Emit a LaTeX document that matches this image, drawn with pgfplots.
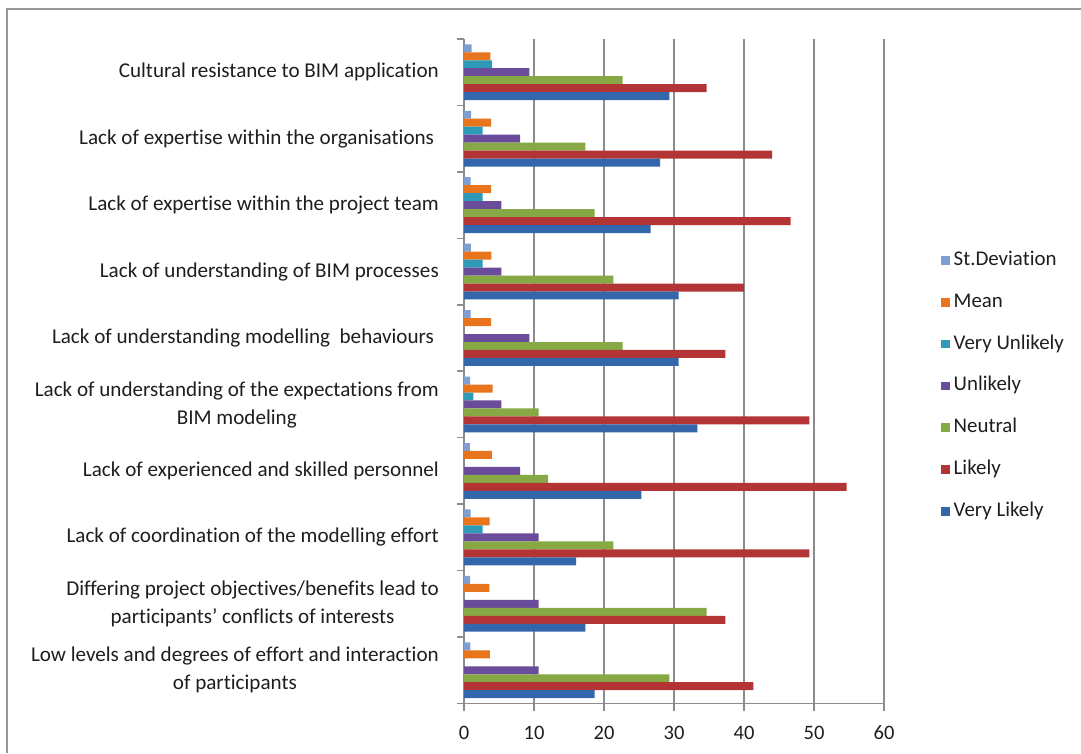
\documentclass[border=0pt]{standalone}
\usepackage{fontspec}
\setmainfont{Carlito}[Ligatures=NoCommon]
\usepackage{pgfplots}
\usepackage{pgfplotstable}
\pgfplotsset{compat=1.18}

\definecolor{cSD}{HTML}{7F9FD3}
\definecolor{cMean}{HTML}{E8741E}
\definecolor{cVU}{HTML}{2E9AB8}
\definecolor{cU}{HTML}{6B4C9B}
\definecolor{cN}{HTML}{86A845}
\definecolor{cL}{HTML}{B33434}
\definecolor{cVL}{HTML}{3366AA}
\definecolor{gridgray}{HTML}{8C8C8C}
\definecolor{txt}{HTML}{1E1E1E}

\pgfplotsset{
  sqlegend/.style={legend image code/.code={\fill[##1] (0pt,-4.25pt) rectangle (8.5pt,4.25pt);}},
}

% percentage of respondents per answer, mean and standard deviation (1-5 scale)
% rows: 0 = bottom category ... 9 = top category
\pgfplotstableread{
y  VL     L      N      U      VU    M     SD
0  18.67  41.33  29.33  10.67  0     3.68  0.90
1  17.33  37.33  34.67  10.67  0     3.61  0.89
2  16.00  49.33  21.33  10.67  2.67  3.65  0.96
3  25.33  54.67  12.00  8.00   0     3.97  0.83
4  33.33  49.33  10.67  5.33   1.33  4.08  0.88
5  30.67  37.33  22.67  9.33   0     3.89  0.95
6  30.67  40.00  21.33  5.33   2.67  3.91  0.98
7  26.67  46.67  18.67  5.33   2.67  3.89  0.95
8  28.00  44.00  17.33  8.00   2.67  3.87  1.00
9  29.33  34.67  22.67  9.33   4.00  3.76  1.09
}\barriers

\begin{document}
\begin{tikzpicture}
\useasboundingbox (0pt,0pt) rectangle (1081pt,753pt);
\draw[gridgray!90, line width=1.6pt] (7pt,0pt) -- (7pt,744pt) -- (1081pt,744pt);
\begin{axis}[
  at={(464pt,49.5pt)}, anchor=south west,
  scale only axis, width=420pt, height=664.5pt,
  xmin=0, xmax=60, ymin=-0.5, ymax=9.5,
  axis x line*=bottom, axis y line*=left,
  axis line style={gridgray, line width=1.6pt},
  xmajorgrids, grid style={gridgray, line width=1.6pt},
  tick align=outside, major tick length=7pt,
  tick style={gridgray, line width=1.6pt},
  xtick={0,10,...,60},
  ytick={-0.5,0.5,...,9.5},
  yticklabels={
    {Low levels and degrees of effort and interaction\\of participants},
    {Differing project objectives/benefits lead to\\participants’ conflicts of interests},
    {Lack of coordination of the modelling effort},
    {Lack of experienced and skilled personnel},
    {Lack of understanding of the expectations from\\BIM modeling},
    {Lack of understanding modelling\ \ behaviours\ },
    {Lack of understanding of BIM processes},
    {Lack of expertise within the project team},
    {Lack of expertise within the organisations\ },
    {Cultural resistance to BIM application},
    {}},
  yticklabel style={align=center, anchor=east, inner sep=0pt,
    xshift=-18pt, yshift=33.2pt,
    font=\fontsize{21.1}{28}\selectfont, text=txt},
  xticklabel style={inner sep=0pt, yshift=-15pt,
    font=\fontsize{20.5}{24}\selectfont, text=txt},
  /pgf/number format/assume math mode=true,
  sqlegend,
  legend style={at={(1.1357,0.478)}, anchor=west, draw=none, fill=none,
    inner sep=0pt, row sep=21.8pt, column sep=4pt,
    font=\fontsize{20.9}{24}\selectfont, text=txt,
    nodes={inner sep=0pt, text height=15pt, text depth=5pt}},
  legend cell align=left,
]
\addplot[xbar, bar width=0.12, bar shift=0.36,  draw=none, fill=cSD]   table[x=SD, y=y] {\barriers};
\addlegendentry{St.Deviation}
\addplot[xbar, bar width=0.12, bar shift=0.24,  draw=none, fill=cMean] table[x=M,  y=y] {\barriers};
\addlegendentry{Mean}
\addplot[xbar, bar width=0.12, bar shift=0.12,  draw=none, fill=cVU]   table[x=VU, y=y] {\barriers};
\addlegendentry{Very Unlikely}
\addplot[xbar, bar width=0.12, bar shift=0,     draw=none, fill=cU]    table[x=U,  y=y] {\barriers};
\addlegendentry{Unlikely}
\addplot[xbar, bar width=0.12, bar shift=-0.12, draw=none, fill=cN]    table[x=N,  y=y] {\barriers};
\addlegendentry{Neutral}
\addplot[xbar, bar width=0.12, bar shift=-0.24, draw=none, fill=cL]    table[x=L,  y=y] {\barriers};
\addlegendentry{Likely}
\addplot[xbar, bar width=0.12, bar shift=-0.36, draw=none, fill=cVL]   table[x=VL, y=y] {\barriers};
\addlegendentry{Very Likely}
\end{axis}
\end{tikzpicture}
\end{document}
